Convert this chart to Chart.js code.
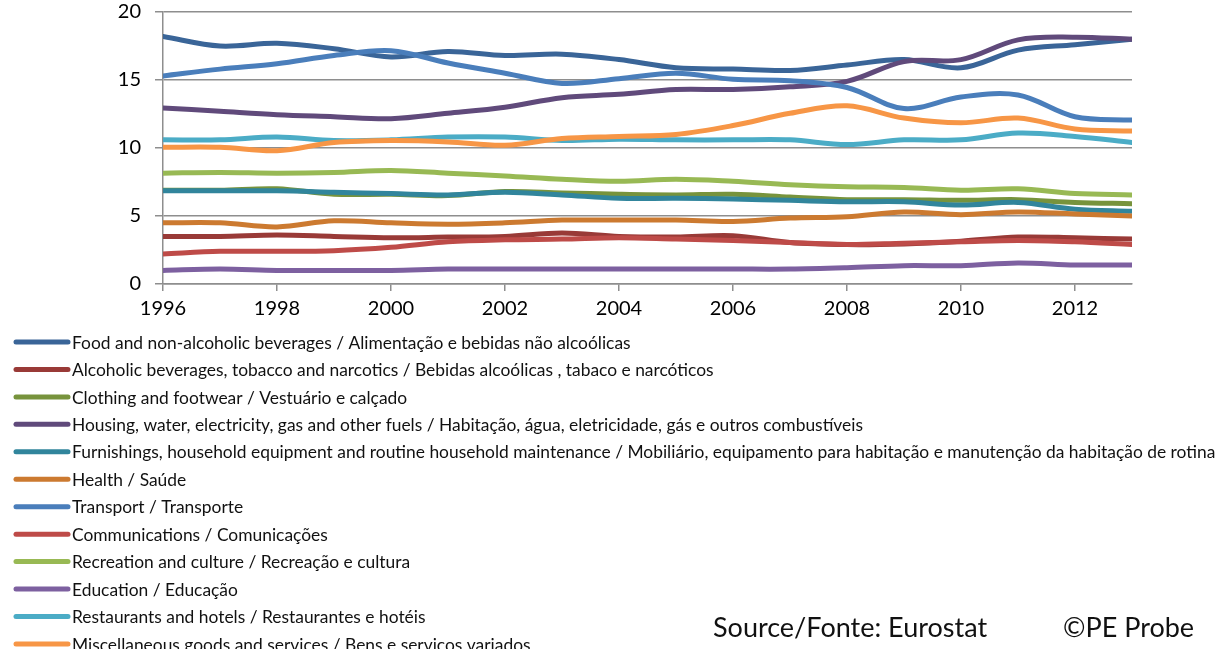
<!DOCTYPE html>
<html>
<head>
<meta charset="utf-8">
<script src="https://cdn.jsdelivr.net/npm/chart.js@4"></script>
<style>
  html, body { margin: 0; padding: 0; background: #fff; }
  #wrap { position: relative; width: 1228px; height: 649px; }
</style>
</head>
<body>
<div id="wrap"><canvas id="chart"></canvas></div>
<script>
// ---------- data (share of household spending, %) ----------
const years = [1996, 1997, 1998, 1999, 2000, 2001, 2002, 2003, 2004, 2005, 2006, 2007, 2008, 2009, 2010, 2011, 2012, 2013];

const food          = [18.2, 17.5, 17.7, 17.3, 16.7, 17.1, 16.8, 16.9, 16.5, 15.9, 15.8, 15.7, 16.1, 16.5, 15.9, 17.2, 17.6, 18.0];
const alcohol       = [3.5, 3.5, 3.6, 3.5, 3.4, 3.45, 3.5, 3.75, 3.5, 3.45, 3.55, 3.05, 2.9, 2.95, 3.15, 3.45, 3.4, 3.3];
const clothing      = [6.9, 6.9, 7.0, 6.6, 6.6, 6.5, 6.8, 6.7, 6.6, 6.55, 6.6, 6.4, 6.2, 6.2, 6.15, 6.2, 6.0, 5.9];
const housing       = [12.95, 12.7, 12.45, 12.3, 12.15, 12.55, 13.0, 13.7, 13.95, 14.3, 14.3, 14.5, 14.9, 16.35, 16.5, 17.95, 18.15, 18.0];
const furnishings   = [6.85, 6.85, 6.85, 6.75, 6.65, 6.55, 6.75, 6.55, 6.3, 6.3, 6.25, 6.15, 6.05, 6.05, 5.8, 6.0, 5.5, 5.35];
const health        = [4.5, 4.5, 4.2, 4.65, 4.5, 4.4, 4.5, 4.7, 4.7, 4.7, 4.6, 4.85, 4.95, 5.3, 5.1, 5.3, 5.15, 5.0];
const transport     = [15.3, 15.8, 16.2, 16.8, 17.15, 16.25, 15.5, 14.75, 15.1, 15.5, 15.05, 14.95, 14.45, 12.9, 13.75, 13.9, 12.3, 12.05];
const communication = [2.2, 2.4, 2.4, 2.45, 2.7, 3.1, 3.25, 3.3, 3.4, 3.3, 3.2, 3.05, 2.9, 3.0, 3.1, 3.2, 3.1, 2.9];
const recreation    = [8.15, 8.2, 8.15, 8.2, 8.35, 8.15, 7.95, 7.7, 7.55, 7.7, 7.55, 7.3, 7.15, 7.1, 6.9, 7.0, 6.65, 6.55];
const education     = [1.0, 1.1, 1.0, 1.0, 1.0, 1.1, 1.1, 1.1, 1.1, 1.1, 1.1, 1.1, 1.2, 1.35, 1.35, 1.55, 1.4, 1.4];
const restaurants   = [10.6, 10.6, 10.8, 10.55, 10.6, 10.8, 10.8, 10.55, 10.65, 10.6, 10.6, 10.6, 10.25, 10.6, 10.6, 11.1, 10.85, 10.4];
const misc          = [10.05, 10.05, 9.8, 10.4, 10.55, 10.45, 10.2, 10.7, 10.85, 11.0, 11.65, 12.55, 13.1, 12.2, 11.85, 12.2, 11.4, 11.25];

const seriesNames = [
  "Food and non-alcoholic beverages / Alimentação e bebidas não alcoólicas",
  "Alcoholic beverages, tobacco and narcotics / Bebidas alcoólicas , tabaco e narcóticos",
  "Clothing and footwear / Vestuário e calçado",
  "Housing, water, electricity, gas and other fuels / Habitação, água, eletricidade, gás e outros combustíveis",
  "Furnishings, household equipment and routine household maintenance / Mobiliário, equipamento para habitação e manutenção da habitação de rotina",
  "Health / Saúde",
  "Transport / Transporte",
  "Communications / Comunicações",
  "Recreation and culture / Recreação e cultura",
  "Education / Educação",
  "Restaurants and hotels / Restaurantes e hotéis",
  "Miscellaneous goods and services / Bens e serviços variados",
];
const seriesValues = [food, alcohol, clothing, housing, furnishings, health, transport, communication, recreation, education, restaurants, misc];
const seriesColors = ["#3a6598", "#993a37", "#77933c", "#604a7b", "#31859c", "#cc7a30", "#4a7ebb", "#be4b48", "#98b954", "#7d60a0", "#4bacc6", "#f79646"];

const yTicks = [0, 5, 10, 15, 20];
const xTickYears = [1996, 1998, 2000, 2002, 2004, 2006, 2008, 2010, 2012];

const FONT = "Lato, 'Liberation Sans', sans-serif";
const GRID = "#8e8e8e";

// ---------- legend + source line drawn under the plot ----------
const legendAndSource = {
  id: "legendAndSource",
  afterDraw(chart) {
    const ctx = chart.ctx;
    const top = chart.chartArea.bottom + 58;
    const step = 27.45;
    // shrink the font until the longest label fits the page
    let size = 19;
    ctx.font = `${size}px ${FONT}`;
    const longest = Math.max(...seriesNames.map((n) => ctx.measureText(n).width));
    if (longest > 1150) size = Math.floor(size * 1150 / longest * 10) / 10;

    ctx.save();
    seriesNames.forEach((name, i) => {
      const y = top + i * step;
      ctx.strokeStyle = seriesColors[i];
      ctx.lineWidth = 5;
      ctx.lineCap = "round";
      ctx.beginPath(); ctx.moveTo(16, y); ctx.lineTo(68, y); ctx.stroke();
      ctx.fillStyle = "#111";
      ctx.font = `${size}px ${FONT}`;
      ctx.textBaseline = "middle";
      ctx.textAlign = "left";
      ctx.fillText(name, 72, y + 1);
    });
    ctx.font = `27px ${FONT}`;
    ctx.fillStyle = "#111";
    ctx.textBaseline = "middle";
    ctx.fillText("Source/Fonte: Eurostat", 713, 628);
    ctx.fillText("©PE Probe", 1063, 628);
    ctx.restore();
  },
};

new Chart(document.getElementById("chart"), {
  type: "line",
  data: {
    datasets: seriesValues.map((vals, i) => ({
      label: seriesNames[i],
      data: vals.map((v, k) => ({ x: years[k], y: v })),
      borderColor: seriesColors[i],
      backgroundColor: seriesColors[i],
      borderWidth: 5,
      borderCapStyle: "round",
      borderJoinStyle: "round",
      pointRadius: 0,
      tension: 0.35,
      fill: false,
      order: seriesValues.length - i, // later series on top, like the original
    })),
  },
  options: {
    responsive: true,
    maintainAspectRatio: false,
    animation: false,
    layout: { padding: { left: 0, top: 12, right: 96, bottom: 325 } },
    plugins: { legend: { display: false }, tooltip: { enabled: false } },
    scales: {
      x: {
        type: "linear",
        min: years[0],
        max: years[years.length - 1],
        afterBuildTicks: (s) => { s.ticks = xTickYears.map((v) => ({ value: v })); },
        afterFit: (s) => { s.height = 40; s.paddingLeft = 0; s.paddingRight = 0; },
        ticks: { color: "#000", font: { family: FONT, size: 20 }, padding: 6, maxRotation: 0, autoSkip: false, callback: (v) => String(v) },
        grid: { drawOnChartArea: false, drawTicks: true, tickLength: 7, color: GRID, lineWidth: 1.5 },
        border: { display: true, color: GRID, width: 1.5 },
      },
      y: {
        min: 0,
        max: 20,
        afterBuildTicks: (s) => { s.ticks = yTicks.map((v) => ({ value: v })); },
        afterFit: (s) => { s.width = 163; s.paddingTop = 0; s.paddingBottom = 0; },
        ticks: { color: "#000", font: { family: FONT, size: 20 }, padding: 14 },
        grid: { color: GRID, lineWidth: 1.5, tickLength: 8 },
        border: { display: true, color: GRID, width: 1.5 },
      },
    },
  },
  plugins: [legendAndSource],
});
</script>
</body>
</html>
